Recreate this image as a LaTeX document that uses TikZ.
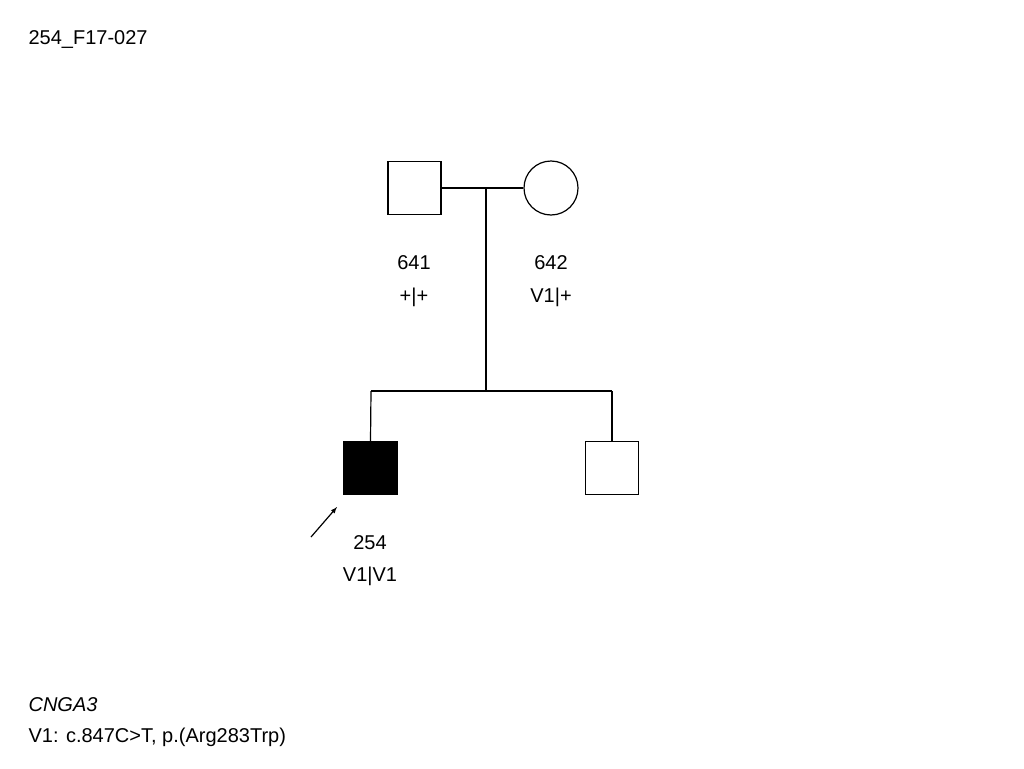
\documentclass[tikz,border=0pt]{standalone}
\usepackage{fontspec}
\setmainfont{Liberation Sans}
\begin{document}
\begin{tikzpicture}[x=1pt,y=-1pt,line width=1.2pt,
  lbl/.style={font=\fontsize{20}{24}\selectfont,inner sep=0pt},
  sq/.style={draw,minimum size=53pt,inner sep=0pt}]
\useasboundingbox (0,0) rectangle (1024,768);
\node[lbl,anchor=west] (title) at (28,40) {254\_F17-027};
\node[sq] (f) at (414.5,188) {};
\node[draw,circle,minimum size=54pt,inner sep=0pt] (m) at (551,188) {};
\coordinate (mj) at (486,188);
\coordinate (sj) at (486,391);
\coordinate (l) at (371,391);
\coordinate (r) at (612,391);
\node[sq,fill=black] (p) at (370.5,468) {};
\node[sq] (s) at (612,468) {};
\draw (f.east) -- (m.west);
\draw (mj) -- (sj);
\draw (l) -- (r);
\draw (l) -- (p.north);
\draw (r) -- (s.north);
\coordinate (a0) at (311,537);
\coordinate (a1) at (337,507);
\draw[-latex] (a0) -- (a1);
\node[lbl] (t641) at (414,263) {641};
\node[lbl] (g641) at (414,297) {+|+};
\node[lbl] (t642) at (551,263) {642};
\node[lbl] (g642) at (551,297) {V1|+};
\node[lbl] (t254) at (370,543) {254};
\node[lbl] (g254) at (370,576) {V1|V1};
\node[lbl,anchor=west] (gene) at (28,705) {\itshape CNGA3};
\node[lbl,anchor=west] (var) at (28,737) {V1: c.847C>T, p.(Arg283Trp)};
\end{tikzpicture}
\end{document}
